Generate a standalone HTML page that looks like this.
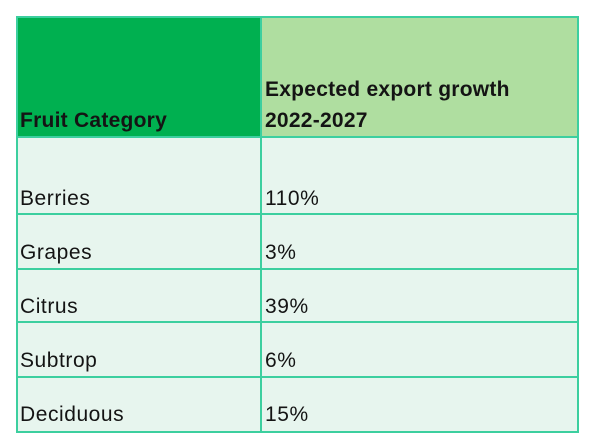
<!DOCTYPE html>
<html>
<head>
<meta charset="utf-8">
<style>
  html,body{margin:0;padding:0;background:#ffffff;}
  body{width:600px;height:443px;position:relative;overflow:hidden;
       font-family:"Liberation Sans", Arial, sans-serif;color:#141414;}
  .bg{position:absolute;}
  .ln{position:absolute;background:#3ccf9f;}
  .t{position:absolute;font-size:21px;line-height:21px;white-space:nowrap;letter-spacing:0.55px;}
  .b{font-weight:bold;letter-spacing:0.25px;}
</style>
</head>
<body>
  <!-- backgrounds -->
  <div class="bg" style="left:17px;top:17px;width:244px;height:121px;background:#00b050;"></div>
  <div class="bg" style="left:261px;top:17px;width:317px;height:121px;background:#afdea0;"></div>
  <div class="bg" style="left:17px;top:138px;width:561px;height:294px;background:#e7f5ee;"></div>

  <!-- horizontal lines -->
  <div class="ln" style="left:16px;top:16px;width:563px;height:2px;"></div>
  <div class="ln" style="left:16px;top:136px;width:563px;height:2px;"></div>
  <div class="ln" style="left:16px;top:213px;width:563px;height:2px;"></div>
  <div class="ln" style="left:16px;top:268px;width:563px;height:2px;"></div>
  <div class="ln" style="left:16px;top:321px;width:563px;height:2px;"></div>
  <div class="ln" style="left:16px;top:376px;width:563px;height:2px;"></div>
  <div class="ln" style="left:16px;top:431px;width:563px;height:2px;"></div>

  <!-- vertical lines -->
  <div class="ln" style="left:16px;top:16px;width:2px;height:417px;"></div>
  <div class="ln" style="left:260px;top:16px;width:2px;height:417px;"></div>
  <div class="ln" style="left:577px;top:16px;width:2px;height:417px;"></div>

  <!-- header text -->
  <div class="t b" style="left:20px;top:110px;">Fruit Category</div>
  <div class="t b" style="left:265px;top:79px;">Expected export growth</div>
  <div class="t b" style="left:265px;top:110px;">2022-2027</div>

  <!-- body text -->
  <div class="t" style="left:20px;top:188px;">Berries</div>
  <div class="t" style="left:265px;top:188px;">110%</div>

  <div class="t" style="left:20px;top:242px;">Grapes</div>
  <div class="t" style="left:265px;top:242px;">3%</div>

  <div class="t" style="left:20px;top:296px;">Citrus</div>
  <div class="t" style="left:265px;top:296px;">39%</div>

  <div class="t" style="left:20px;top:350px;">Subtrop</div>
  <div class="t" style="left:265px;top:350px;">6%</div>

  <div class="t" style="left:20px;top:404px;">Deciduous</div>
  <div class="t" style="left:265px;top:404px;">15%</div>
</body>
</html>
